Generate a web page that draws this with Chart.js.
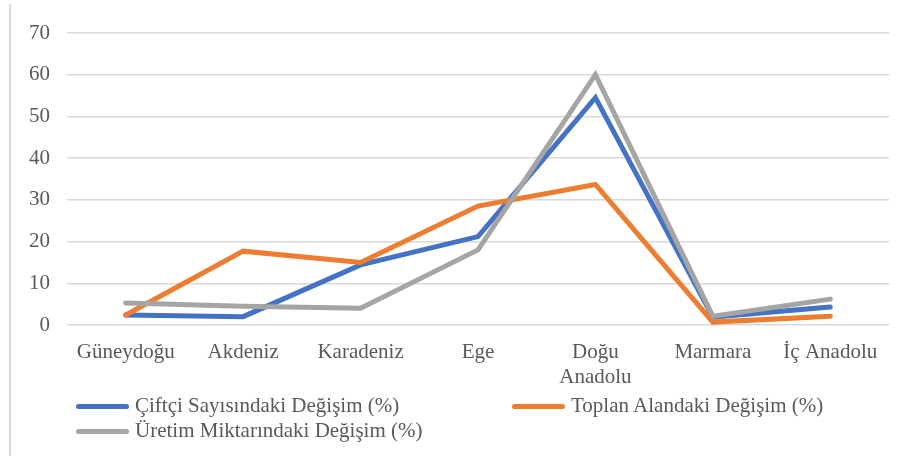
<!DOCTYPE html>
<html>
<head>
<meta charset="utf-8">
<script src="https://cdn.jsdelivr.net/npm/chart.js@4"></script>
<style>
  body { margin: 0; background: #fff; }
  #wrap { position: relative; width: 908px; height: 456px; overflow: hidden; }
  #edge { position: absolute; left: 9px; top: 4px; width: 2px; height: 460px; background: #d9d9d9; }
  #chartBox { position: absolute; left: 0; top: 0; width: 908px; height: 396px; }
  .leg { position: absolute; font: 21px "Liberation Serif", "Times New Roman", serif; color: #595959; white-space: nowrap; line-height: 24px; }
  .leg span.sw { display: inline-block; width: 53px; height: 5px; border-radius: 3px; vertical-align: middle; margin-right: 6px; position: relative; top: -1px; }
</style>
</head>
<body>
<div id="wrap">
  <div id="edge"></div>
  <div id="chartBox"><canvas id="lineChart"></canvas></div>
  <div id="legend"></div>
</div>
<script>
const regions = ['Güneydoğu', 'Akdeniz', 'Karadeniz', 'Ege', ['Doğu', 'Anadolu'], 'Marmara', 'İç Anadolu'];
const farmerChange = [2.4, 2.0, 14.4, 21.2, 54.5, 1.9, 4.3];
const areaChange = [2.4, 17.7, 15.0, 28.5, 33.7, 0.7, 2.1];
const outputChange = [5.3, 4.5, 4.0, 18.0, 60.0, 2.1, 6.2];
const yTicks = [0, 10, 20, 30, 40, 50, 60, 70];

const seriesNames = ['Çiftçi Sayısındaki Değişim (%)', 'Toplan Alandaki Değişim (%)', 'Üretim Miktarındaki Değişim (%)'];
const seriesColors = ['#4472C4', '#ED7D31', '#A5A5A5'];

const textColor = '#595959';
const serif = '"Liberation Serif", "Times New Roman", serif';

// legend laid out like the office chart: two columns, wraps to a second row
const legendSpots = [[76, 393], [512, 393], [76, 418]];
const legendEl = document.getElementById('legend');
seriesNames.forEach((name, i) => {
  const d = document.createElement('div');
  d.className = 'leg';
  d.style.left = legendSpots[i][0] + 'px';
  d.style.top = legendSpots[i][1] + 'px';
  d.innerHTML = '<span class="sw" style="background:' + seriesColors[i] + '"></span>' + name;
  legendEl.appendChild(d);
});

const lineStyle = {
  borderWidth: 5,
  pointRadius: 0,
  tension: 0,
  borderCapStyle: 'round',
  borderJoinStyle: 'miter',
  fill: false
};

new Chart(document.getElementById('lineChart'), {
  type: 'line',
  data: {
    labels: regions,
    datasets: [
      { label: seriesNames[0], data: farmerChange, borderColor: seriesColors[0], order: 3, ...lineStyle },
      { label: seriesNames[1], data: areaChange, borderColor: seriesColors[1], order: 2, ...lineStyle },
      { label: seriesNames[2], data: outputChange, borderColor: seriesColors[2], order: 1, ...lineStyle }
    ]
  },
  options: {
    responsive: true,
    maintainAspectRatio: false,
    animation: false,
    layout: { padding: { top: 33, right: 19, left: 0, bottom: 0 } },
    plugins: {
      legend: { display: false },
      tooltip: { enabled: false }
    },
    scales: {
      x: {
        offset: true,
        grid: { display: false, drawTicks: false },
        border: { display: false },
        ticks: {
          color: textColor,
          font: { family: serif, size: 21 },
          padding: 15,
          maxRotation: 0,
          autoSkip: false
        },
        afterFit: scale => { scale.height = 71; }
      },
      y: {
        min: 0,
        max: 70,
        afterBuildTicks: scale => { scale.ticks = yTicks.map(v => ({ value: v })); },
        grid: { color: '#d9d9d9', lineWidth: 1.5, drawTicks: false },
        border: { display: false },
        ticks: {
          color: textColor,
          font: { family: serif, size: 21 },
          padding: 17
        },
        afterFit: scale => { scale.width = 67; }
      }
    }
  }
});
</script>
</body>
</html>
